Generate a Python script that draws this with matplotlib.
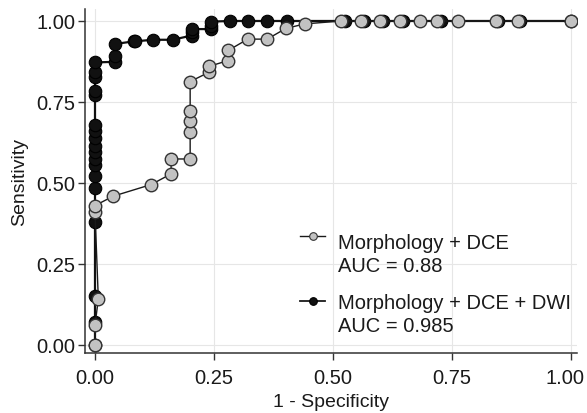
import matplotlib
matplotlib.use("Agg")
import matplotlib.pyplot as plt
from matplotlib.lines import Line2D
from matplotlib.transforms import ScaledTranslation

plt.rcParams["font.family"] = ["Liberation Sans", "DejaVu Sans"]

# ROC points
dce_fpr = [0.0, 0.0, 0.007, 0.0, 0.0, 0.038, 0.118, 0.16, 0.16, 0.2, 0.2, 0.2,
           0.2, 0.2, 0.24, 0.24, 0.28, 0.28, 0.321, 0.362, 0.401, 0.441, 0.518,
           0.56, 0.599, 0.641, 0.683, 0.719, 0.763, 0.842, 0.889, 1.0]
dce_tpr = [0.0, 0.06, 0.142, 0.41, 0.43, 0.459, 0.495, 0.528, 0.574, 0.574,
           0.658, 0.692, 0.723, 0.813, 0.842, 0.86, 0.878, 0.909, 0.944, 0.944,
           0.977, 0.991, 1.0, 1.0, 1.0, 1.0, 1.0, 1.0, 1.0, 1.0, 1.0, 1.0]

dwi_fpr = [0.0, 0.0, 0.0, 0.0, 0.0, 0.0, 0.0, 0.0, 0.0, 0.0, 0.0, 0.0, 0.0,
           0.0, 0.0, 0.0, 0.0, 0.0, 0.042, 0.042, 0.042, 0.081, 0.084, 0.121,
           0.163, 0.203, 0.203, 0.203, 0.243, 0.243, 0.243, 0.284, 0.322,
           0.362, 0.404, 0.525, 0.565, 0.605, 0.648, 0.727, 0.848, 0.893, 1.0]
dwi_tpr = [0.0, 0.07, 0.152, 0.379, 0.484, 0.52, 0.555, 0.575, 0.595, 0.615,
           0.64, 0.66, 0.68, 0.77, 0.785, 0.826, 0.842, 0.872, 0.874, 0.893,
           0.929, 0.937, 0.937, 0.942, 0.942, 0.955, 0.965, 0.975, 0.975,
           0.986, 0.998, 1.0, 1.0, 1.0, 1.0, 1.0, 1.0, 1.0, 1.0, 1.0, 1.0,
           1.0, 1.0]

labels = [("Morphology + DCE", "AUC = 0.88"),
          ("Morphology + DCE + DWI", "AUC = 0.985")]
ticks = [0.0, 0.25, 0.5, 0.75, 1.0]
tick_labels = ["0.00", "0.25", "0.50", "0.75", "1.00"]

W, H = 587, 414
fig = plt.figure(figsize=(W / 100, H / 100), dpi=100)
ax = fig.add_axes([85 / W, 60 / H, 492 / W, 344 / H])

gray_face = "#c2c2c2"
ax.plot(dwi_fpr, dwi_tpr, "-o", color="#111111", lw=1.6, ms=9,
        mfc="#111111", mec="#000000", mew=0.8, zorder=3)
ax.plot(dce_fpr, dce_tpr, "-o", color="#1a1a1a", lw=1.0, ms=9,
        mfc=gray_face, mec="#333333", mew=1.0, zorder=4)

ax.set_xlim(-0.021, 1.013)
ax.set_ylim(-0.025, 1.037)
ax.set_xticks(ticks)
ax.set_xticklabels(tick_labels)
ax.set_yticks(ticks)
ax.set_yticklabels(tick_labels)
ax.grid(True, color="#e6e6e6", lw=0.8)
ax.set_axisbelow(True)
for s in ["top", "right"]:
    ax.spines[s].set_visible(False)
for s in ["left", "bottom"]:
    ax.spines[s].set_color("#333333")
    ax.spines[s].set_linewidth(1.1)
ax.tick_params(axis="both", length=5, width=1, color="#333333",
               labelsize=14.5, labelcolor="#1a1a1a")
ax.tick_params(axis="y", pad=2)
ax.tick_params(axis="x", pad=6)
ax.set_xlabel("1 - Specificity", fontsize=14, color="#1a1a1a", labelpad=4)
ax.set_ylabel("Sensitivity", fontsize=14, color="#1a1a1a", labelpad=6)

# last x label sits right at the figure edge; nudge it in a little
last = ax.get_xticklabels()[-1]
last.set_transform(last.get_transform()
                   + ScaledTranslation(-6 / 100, 0, fig.dpi_scale_trans))

# hand-drawn legend (no frame, handle beside the first line of each label)
def px_x(p):
    return (p - 85) / 492

def px_y(p):
    return (354 - p) / 344

entries = [(237, 249.3, 271.7, gray_face, "#333333", 1.0),
           (301.7, 309.3, 331.7, "#111111", "#000000", 1.3)]
for (hy, b1, b2, fc, ec, lw), (l1, l2) in zip(entries, labels):
    ax.add_line(Line2D([px_x(300), px_x(325)], [px_y(hy), px_y(hy)],
                       transform=ax.transAxes, color="#1a1a1a", lw=lw,
                       zorder=5))
    ax.add_line(Line2D([px_x(312.5)], [px_y(hy)], transform=ax.transAxes,
                       marker="o", ms=5.5, mfc=fc, mec=ec, mew=0.8,
                       zorder=6))
    ax.text(px_x(338), px_y(b1), l1, transform=ax.transAxes, fontsize=14.5,
            va="baseline", ha="left", color="#1a1a1a")
    ax.text(px_x(338), px_y(b2), l2, transform=ax.transAxes, fontsize=14.5,
            va="baseline", ha="left", color="#1a1a1a")

fig.savefig("out.png", dpi=100)
